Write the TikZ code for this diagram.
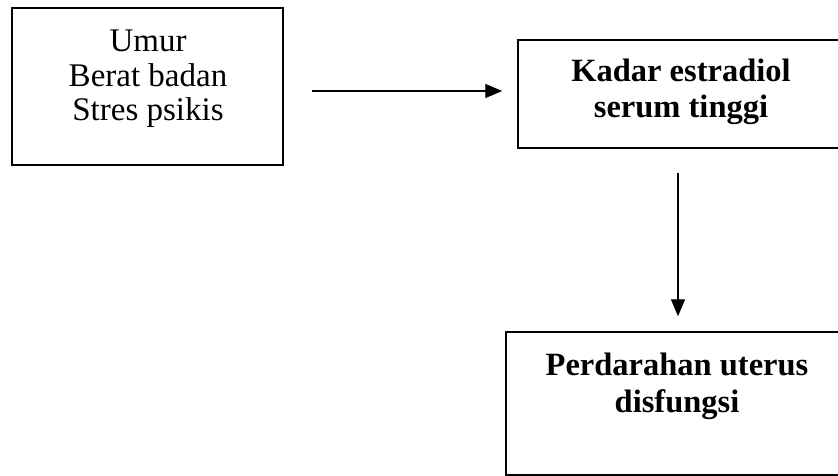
\documentclass[tikz,border=0pt]{standalone}
\usepackage{fontspec}
\setmainfont{Liberation Serif}
\usetikzlibrary{arrows.meta}
\tikzset{
  box/.style={draw, line width=1.5pt, rectangle, inner sep=0pt},
  txt/.style={anchor=base, inner sep=0pt, font=\fontsize{33}{37}\selectfont},
  btxt/.style={txt, font=\fontsize{32.5}{37}\selectfont\bfseries},
  arr/.style={line width=1.4pt, -{Triangle[length=17pt,width=14pt]}},
}
\begin{document}
\begin{tikzpicture}[x=1pt,y=-1pt]
\useasboundingbox (0,0) rectangle (838,476);
\clip (0,0) rectangle (838,476);
\fill[white] (0,0) rectangle (838,476);
% boxes
\node[box, minimum width=271pt, minimum height=157pt] (b1) at (147.5,86.5) {};
\node[box, minimum width=327pt, minimum height=108pt] (b2) at (681.5,94) {};
\node[box, minimum width=342pt, minimum height=143pt] (b3) at (677,403.5) {};
% texts
\node[txt] (t1a) at (148,52) {Umur};
\node[txt] (t1b) at (148,87) {Berat badan};
\node[txt] (t1c) at (148,121) {Stres psikis};
\node[btxt] (t2a) at (681,82) {Kadar estradiol};
\node[btxt] (t2b) at (681,118) {serum tinggi};
\node[btxt] (t3a) at (677,375) {Perdarahan uterus};
\node[btxt] (t3b) at (677,412) {disfungsi};
% connectors
\coordinate (a1) at (0,91);
\coordinate (a2) at (678,0);
\draw[arr, shorten <=28pt, shorten >=15pt] (b1.east |- a1) -- (b2.west |- a1);
\draw[arr, shorten <=24pt, shorten >=15pt] (b2.south -| a2) -- (b3.north -| a2);
\end{tikzpicture}
\end{document}
